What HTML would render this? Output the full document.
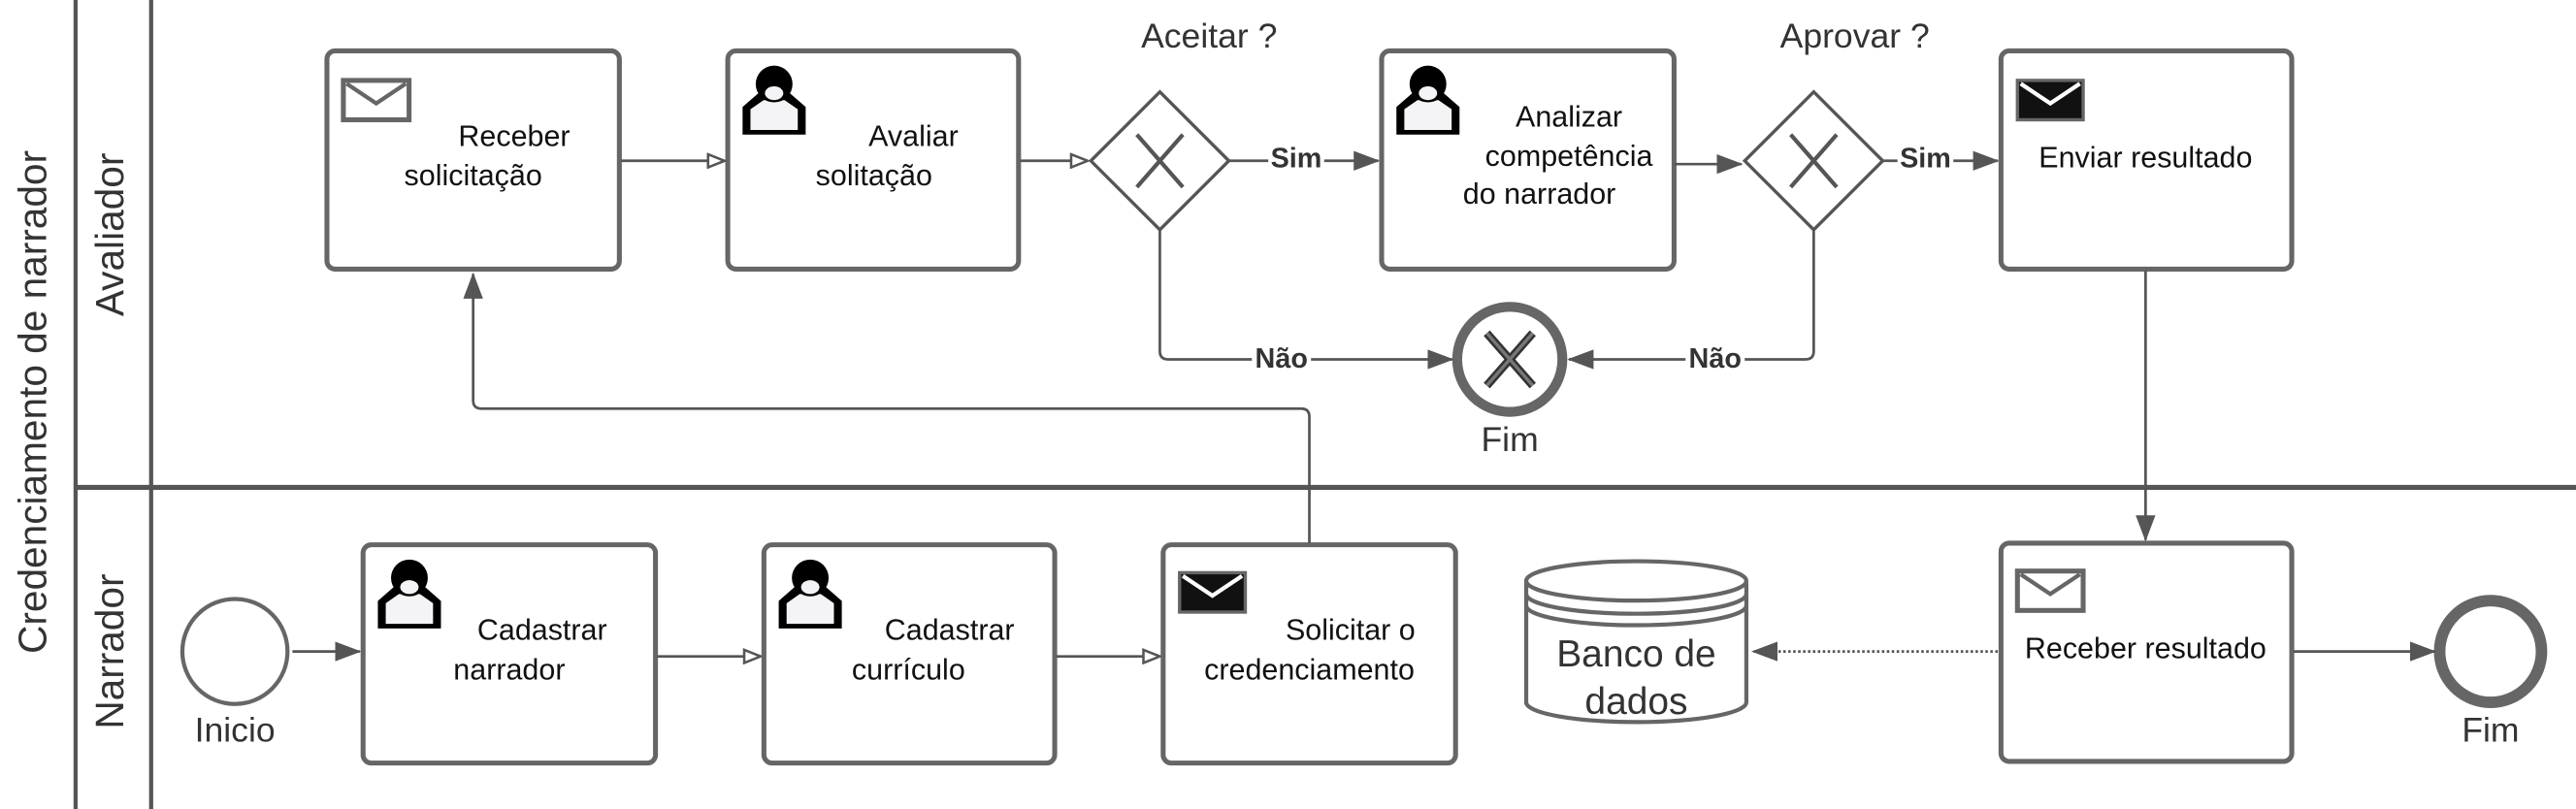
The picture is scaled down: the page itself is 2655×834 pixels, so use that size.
<!DOCTYPE html>
<html><head><meta charset="utf-8"><style>
html,body{margin:0;padding:0;background:#fff;width:2655px;height:834px;overflow:hidden}
svg{display:block}
text{font-family:"Liberation Sans",sans-serif}
</style></head><body>
<svg width="2655" height="834" viewBox="0 0 1568 493" preserveAspectRatio="none" xmlns="http://www.w3.org/2000/svg">
<defs>
<marker id="o" markerWidth="12" markerHeight="10" refX="11" refY="5" orient="auto" markerUnits="userSpaceOnUse"><path d="M1,1 L11,5 L1,9 Z" fill="#fff" stroke="#555" stroke-width="1.5"/></marker>
<marker id="f" markerWidth="16" markerHeight="12" refX="15" refY="6" orient="auto" markerUnits="userSpaceOnUse"><path d="M0,0 L16,6 L0,12 Z" fill="#555"/></marker>
<g id="user"><path d="M0,30 L0,18 L6,12 L18,12 L24,18 L24,30 Z" fill="#000"/><path d="M3,28 L3,19 L8,15 L16,15 L21,19 L21,28 Z" fill="#f4f4f6"/><ellipse cx="12" cy="8" rx="7" ry="8" fill="#000"/><ellipse cx="12" cy="12" rx="3.5" ry="3" fill="#f4f4f6"/></g>
<g id="envw"><rect x="0" y="0" width="40" height="24" fill="#fff" stroke="#666" stroke-width="3"/><path d="M2,2 L20,14 L38,2" fill="none" stroke="#666" stroke-width="2.5"/></g>
<g id="envb"><rect x="0" y="0" width="40" height="24" fill="#111" stroke="#666" stroke-width="2"/><path d="M2,2 L20,14 L38,2" fill="none" stroke="#fff" stroke-width="2.5"/></g>
</defs>
<g stroke="#555" fill="none">
<line x1="46" y1="0" x2="46" y2="493" stroke-width="2.5"/>
<line x1="92" y1="0" x2="92" y2="493" stroke-width="2.5"/>
<line x1="46" y1="297" x2="1568" y2="297" stroke-width="3"/>
</g>
<text transform="translate(28,245) rotate(-90)" text-anchor="middle" font-size="24" fill="#333">Credenciamento de narrador</text>
<text transform="translate(75,143) rotate(-90)" text-anchor="middle" font-size="24" fill="#333">Avaliador</text>
<text transform="translate(75,397) rotate(-90)" text-anchor="middle" font-size="24" fill="#333">Narrador</text>

<g fill="#fff" stroke="#666" stroke-width="3">
<rect x="199" y="31" width="178" height="133" rx="5"/>
<rect x="443" y="31" width="177" height="133" rx="5"/>
<rect x="841" y="31" width="178" height="133" rx="5"/>
<rect x="1218" y="31" width="177" height="133" rx="5"/>
<rect x="221" y="332" width="178" height="133" rx="5"/>
<rect x="465" y="332" width="177" height="133" rx="5"/>
<rect x="708" y="332" width="178" height="133" rx="5"/>
<rect x="1218" y="331" width="177" height="133" rx="5"/>
</g>
<use href="#envw" x="209" y="49"/>
<use href="#user" transform="translate(452,40) scale(1.6,1.4)"/>
<use href="#user" transform="translate(850,40) scale(1.6,1.4)"/>
<use href="#envb" x="1228" y="49"/>
<use href="#user" transform="translate(230,341) scale(1.6,1.4)"/>
<use href="#user" transform="translate(474,341) scale(1.6,1.4)"/>
<use href="#envb" x="718" y="349"/>
<use href="#envw" x="1228" y="348"/>

<g font-size="18" fill="#111" text-anchor="middle">
<text x="313" y="89">Receber</text><text x="288" y="113">solicitação</text>
<text x="556" y="89">Avaliar</text><text x="532" y="113">solitação</text>
<text x="955" y="77">Analizar</text><text x="955" y="101">competência</text><text x="937" y="124">do narrador</text>
<text x="1306" y="102">Enviar resultado</text>
<text x="330" y="390">Cadastrar</text><text x="310" y="414">narrador</text>
<text x="578" y="390">Cadastrar</text><text x="553" y="414">currículo</text>
<text x="822" y="390">Solicitar o</text><text x="797" y="414">credenciamento</text>
<text x="1306" y="401">Receber resultado</text>
</g>

<g fill="#fff" stroke="#555" stroke-width="2">
<path d="M706,56 L748,98 L706,140 L664,98 Z"/>
<path d="M1104,56 L1146,98 L1104,140 L1062,98 Z"/>
</g>
<g stroke="#555" stroke-width="2.5">
<path d="M692,82 L720,114 M720,82 L692,114"/>
<path d="M1090,82 L1118,114 M1118,82 L1090,114"/>
</g>
<g font-size="21" fill="#333" text-anchor="middle">
<text x="736" y="29">Aceitar ?</text>
<text x="1129" y="29">Aprovar ?</text>
<text x="919" y="275">Fim</text>
<text x="143" y="452">Inicio</text>
<text x="1516" y="452">Fim</text>
</g>

<circle cx="919" cy="219" r="32" fill="#fff" stroke="#666" stroke-width="6"/>
<path d="M905,203 L933,235 M933,203 L905,235" stroke="#333" stroke-width="5"/>
<path d="M905,203 L933,235 M933,203 L905,235" stroke="#777" stroke-width="2"/>
<circle cx="143" cy="397" r="32" fill="#fff" stroke="#666" stroke-width="2.5"/>
<circle cx="1516" cy="397" r="31" fill="#fff" stroke="#666" stroke-width="7"/>

<g fill="#fff" stroke="#666" stroke-width="2.5">
<path d="M929,355 L929,428 A67,12 0 0 0 1063,428 L1063,355"/>
<ellipse cx="996" cy="354" rx="67" ry="12"/>
<path d="M929,362 A67,12 0 0 0 1063,362" fill="none"/>
<path d="M929,369 A67,12 0 0 0 1063,369" fill="none"/>
</g>
<text x="996" y="406" text-anchor="middle" font-size="23" fill="#333">Banco de</text>
<text x="996" y="435" text-anchor="middle" font-size="23" fill="#333">dados</text>

<g stroke="#555" stroke-width="1.6" fill="none">
<path d="M378,98 L441,98" marker-end="url(#o)"/>
<path d="M621,98 L662,98" marker-end="url(#o)"/>
<path d="M400,400 L463,400" marker-end="url(#o)"/>
<path d="M643,400 L706,400" marker-end="url(#o)"/>
<path d="M178,397 L219,397" marker-end="url(#f)"/>
<path d="M748,98 L839,98" marker-end="url(#f)"/>
<path d="M1019,100 L1060,100" marker-end="url(#f)"/>
<path d="M1146,98 L1216,98" marker-end="url(#f)"/>
<path d="M706,140 L706,214 Q706,219 711,219 L884,219" marker-end="url(#f)"/>
<path d="M1104,140 L1104,214 Q1104,219 1099,219 L955,219" marker-end="url(#f)"/>
<path d="M797,331 L797,254 Q797,249 792,249 L293,249 Q288,249 288,244 L288,167" marker-end="url(#f)"/>
<path d="M1306,165 L1306,329" marker-end="url(#f)"/>
<path d="M1396,397 L1482,397" marker-end="url(#f)"/>
<path d="M1216,397 L1067,397" stroke-dasharray="1.5,1.5" marker-end="url(#f)"/>
</g>
<g font-size="17" font-weight="bold" fill="#333" text-anchor="middle">
<rect x="772" y="88" width="34" height="18" fill="#fff"/><text x="789" y="102">Sim</text>
<rect x="1155" y="88" width="34" height="18" fill="#fff"/><text x="1172" y="102">Sim</text>
<rect x="762" y="209" width="36" height="18" fill="#fff"/><text x="780" y="224">Não</text>
<rect x="1026" y="209" width="36" height="18" fill="#fff"/><text x="1044" y="224">Não</text>
</g>
</svg>
</body></html>
